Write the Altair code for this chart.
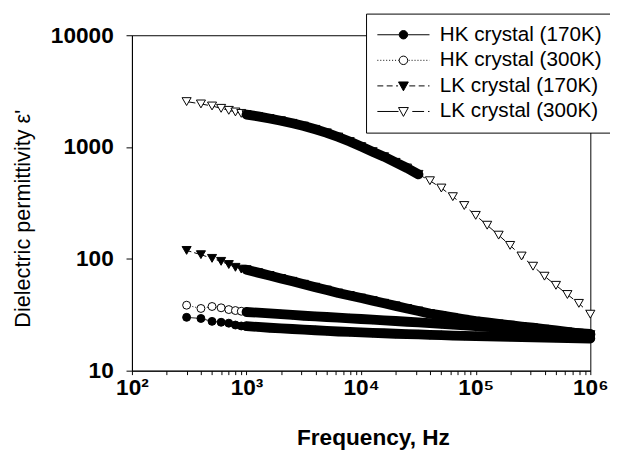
import altair as alt
import pandas as pd

# ---------------- data ----------------
freq = [300, 400, 500, 600, 700, 800, 900,
        1000, 1259, 1585, 1995, 2512, 3162, 3981, 5012, 6310, 7943,
        10000, 12589, 15849, 19953, 25119, 31623, 39811, 50119, 63096, 79433,
        100000, 125893, 158489, 199526, 251189, 316228, 398107, 501187, 630957, 794328,
        1000000]

hk170 = [30, 29.3, 27.6, 27.1, 26.6, 25.6, 25.1,
         25, 24.6, 24.2, 23.9, 23.6, 23.3, 23.0, 22.7, 22.4, 22.2,
         22.0, 21.8, 21.6, 21.4, 21.2, 21.1, 20.9, 20.8, 20.6, 20.5,
         20.4, 20.3, 20.2, 20.1, 20.0, 19.9, 19.8, 19.7, 19.6, 19.5,
         19.4]

hk300 = [38.5, 36, 37.5, 36.5, 35.2, 34.5, 34,
         33.5, 33, 32.5, 32, 31.5, 31, 30.6, 30.2, 29.8, 29.4,
         29, 28.6, 28.2, 27.8, 27.4, 27, 26.6, 26.2, 25.8, 25.4,
         25, 24.6, 24.2, 23.8, 23.4, 23, 22.6, 22.3, 22, 21.6,
         21.3]

lk170 = [119, 109, 101, 95, 89, 84, 81,
         80, 75.3, 71, 66.8, 63, 59.3, 55.8, 52.6, 49.5, 47,
         44.6, 42.3, 40.1, 38, 36, 34.2, 32.4, 31.2, 30, 28.8,
         27.7, 27, 26.2, 25.5, 24.8, 24.2, 23.5, 22.9, 22.2, 21.6,
         21]

lk300 = [2550, 2430, 2330, 2220, 2130, 2060, 2000,
         1950, 1880, 1800, 1720, 1630, 1540, 1440, 1340, 1230, 1120,
         1010, 910, 820, 730, 650, 570, 500, 430, 360, 300,
         245, 200, 163, 132, 106, 86, 70, 58, 48, 40,
         32]

names = ["HK crystal (170K)", "HK crystal (300K)",
         "LK crystal (170K)", "LK crystal (300K)"]
series_vals = [hk170, hk300, lk170, lk300]

# ---------------- styles ----------------
marker = ["circle", "circle", "triangle-down", "triangle-down"]
fills = ["black", "white", "black", "white"]
msize = [65, 65, 85, 85]
band_end = [1000000, 1000000, 1000000, 31623]
dashes = [[1, 0], [1, 2], [5, 3], [9, 4]]

rows = []
for i, name in enumerate(names):
    for f, v in zip(freq, series_vals[i]):
        rows.append(dict(series=name, f=f, v=v, mk=marker[i], fc=fills[i],
                         sz=msize[i], band=bool(1000 <= f <= band_end[i])))
df = pd.DataFrame(rows)

FONT = "Liberation Sans"


def seg(x0, x1, dash, gap):
    out = []
    x = x0
    while x < x1 - 1e-6:
        e = min(x + dash, x1)
        out.append("M%.3f,0H%.3f" % (x, e))
        x = e + gap
    return "".join(out)


# legend symbols: unit = 10 px (symbolSize 400); line spans 53 px from the column's left edge
L0, L1, C = -1.0, 4.3, 1.65
R = 0.43
circ = "M%.3f,0A%.3f,%.3f 0 1,1 %.3f,0A%.3f,%.3f 0 1,1 %.3f,0Z" % (
    C - R, R, R, C + R, R, R, C - R)
tri = "M%.3f,-0.4L%.3f,-0.4L%.3f,0.5Z" % (C - 0.5, C + 0.5, C)
leg_paths = [
    seg(L0, C - R, 9, 0) + seg(C + R, L1, 9, 0) + circ,
    seg(L0, C - R - 0.05, 0.1, 0.2) + seg(C + R + 0.1, L1, 0.1, 0.2) + circ,
    seg(L0, C - 0.55, 0.6, 0.35) + seg(C + 0.6, L1, 0.6, 0.35) + tri,
    seg(L0, C - 0.5, 9, 0) + seg(C + 0.9, L1, 1.2, 0.4) + tri,
]

xticks = [m * 10 ** e for e in range(2, 6) for m in range(1, 10)] + [10 ** 6]
xlabel_expr = ("datum.value == 100 ? '10\u00b2' : datum.value == 1000 ? '10\u00b3' : "
               "datum.value == 10000 ? '10\u2074' : datum.value == 100000 ? '10\u2075' : "
               "datum.value == 1000000 ? '10\u2076' : ''")

x = alt.X("f:Q",
          scale=alt.Scale(type="log", domain=[100, 1000000], nice=False),
          axis=alt.Axis(values=xticks, labelExpr=xlabel_expr, labelOverlap=False,
                        labelFlush=False, tickSize=4, labelPadding=2,
                        labelFontSize=23, labelFontWeight="bold",
                        title="Frequency, Hz", titleFontSize=23, titleFontWeight="bold",
                        titleX=245, titleY=75, titleBaseline="alphabetic",
                        titleAlign="center"))
y = alt.Y("v:Q",
          scale=alt.Scale(type="log", domain=[10, 10000], nice=False),
          axis=alt.Axis(values=[10, 100, 1000, 10000],
                        labelExpr="format(datum.value, 'd')",
                        labelOverlap=False, labelFlush=False, tickSize=6,
                        labelPadding=13, labelFontSize=23, labelFontWeight="bold",
                        title="Dielectric permittivity \u03b5'", titleFontSize=22,
                        titleFontWeight="normal", titleX=-104, titleY=186,
                        titleBaseline="alphabetic", titleAlign="center"))

base = alt.Chart(df)

lines = base.mark_line(strokeWidth=1, color="black").encode(
    x=x, y=y, detail="series:N",
    strokeDash=alt.StrokeDash("series:N",
                              scale=alt.Scale(domain=names, range=dashes),
                              legend=None))

points = base.mark_point(stroke="black", strokeWidth=1, opacity=1).encode(
    x=x, y=y,
    shape=alt.Shape("mk:N", scale=None, legend=None),
    fill=alt.Fill("fc:N", scale=None, legend=None),
    size=alt.Size("sz:Q", scale=None, legend=None))

band = base.transform_filter("datum.band").mark_line(
    strokeWidth=10, color="black", strokeCap="round", strokeJoin="round").encode(
    x=x, y=y, detail="series:N")

legend_def = alt.Legend(title=None, orient="none", legendX=238, legendY=-22,
                        padding=11, strokeColor="black", fillColor="white",
                        labelFont=FONT, labelFontSize=21, labelColor="black",
                        labelOffset=43, rowPadding=4, symbolSize=400,
                        symbolStrokeWidth=1, labelLimit=400)

legend_layer = base.transform_filter("false").mark_point(
    filled=True, opacity=1, size=400, strokeWidth=1).encode(
    x=x, y=y,
    shape=alt.Shape("series:N", scale=alt.Scale(domain=names, range=leg_paths),
                    legend=legend_def),
    fill=alt.Fill("series:N", scale=alt.Scale(domain=names, range=fills),
                  legend=legend_def),
    stroke=alt.Stroke("series:N", scale=alt.Scale(domain=names, range=["black"] * 4),
                      legend=legend_def))

chart = alt.layer(lines, points, band, legend_layer).resolve_scale(
    shape="independent", fill="independent", strokeDash="independent",
    stroke="independent"
).properties(
    width=466, height=341, autosize="none",
    padding={"left": 126, "top": 24, "right": 20, "bottom": 80},
).configure_view(stroke="black", strokeWidth=1).configure_axis(
    domainColor="black", tickColor="black", labelColor="black", titleColor="black",
    labelFont=FONT, titleFont=FONT, grid=False, domainWidth=1, tickWidth=1)

chart.save("out.html", embed_options={"renderer": "svg", "actions": False})
